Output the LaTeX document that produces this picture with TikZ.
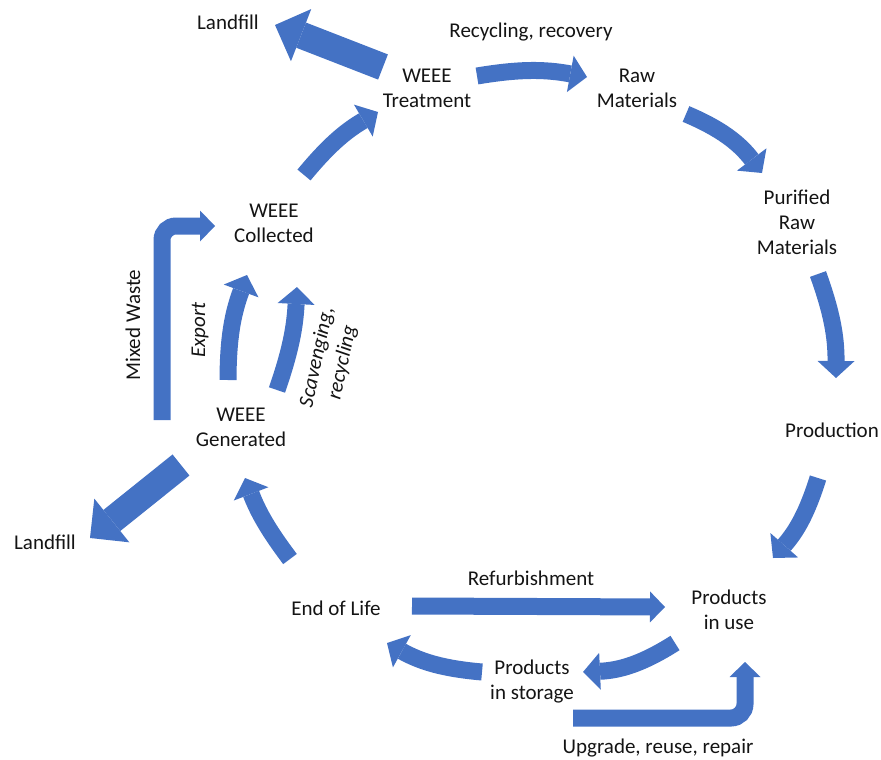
\documentclass[tikz,border=0pt]{standalone}
\usepackage{fontspec}
\setmainfont{Carlito}
\usetikzlibrary{arrows.meta}
\definecolor{flowblue}{HTML}{4472C4}
\begin{document}
\begin{tikzpicture}[x=1pt,y=1pt,
  lbl/.style={font=\fontsize{21}{25}\selectfont, align=center, inner sep=0pt, text=black!92},
  slanted/.style={lbl, font=\fontsize{21}{26}\selectfont\itshape},
  flow/.style={draw=flowblue, line width=17pt,
    -{Triangle[width=37pt,length=17pt,line width=0pt]}},
  smallflow/.style={draw=flowblue, line width=17pt,
    -{Triangle[width=31pt,length=15pt,line width=0pt]}},
  bigflow/.style={draw=flowblue, line width=27pt,
    -{Triangle[width=56pt,length=28pt,line width=0pt]}},
]
\useasboundingbox (0,0) rectangle (881,-760);

% stages of the cycle
\node[lbl] (landfillA) at (228,-22) {Landfill};
\node[lbl] (treat)     at (427,-88) {WEEE\\Treatment};
\node[lbl] (raw)       at (637,-88) {Raw\\Materials};
\node[lbl] (pure)      at (797,-222) {Purified\\Raw\\Materials};
\node[lbl] (prod)      at (832,-430) {Production};
\node[lbl] (inuse)     at (729,-610) {Products\\in use};
\node[lbl] (store)     at (532,-682) {Products\\in storage};
\node[lbl] (eol)       at (336,-608) {End of Life};
\node[lbl] (gen)       at (241,-427) {WEEE\\Generated};
\node[lbl] (coll)      at (274,-223) {WEEE\\Collected};
\node[lbl] (landfillB) at (45,-542) {Landfill};

% flow labels
\node[lbl] (lrec)   at (531,-32) {Recycling, recovery};
\node[lbl] (lref)   at (531,-578) {Refurbishment};
\node[lbl] (lupg)   at (658,-748) {Upgrade, reuse, repair};
\node[lbl, rotate=90] (lmix) at (133,-325) {Mixed Waste};
\node[slanted, rotate=90] (lexp) at (200,-330) {Export};
\node[slanted, rotate=78] (lscv) at (330,-360) {Scavenging,\\recycling};

% arrow end points
\coordinate (a1s) at (383,-67);  \coordinate (a1e) at (275,-25);
\coordinate (a2s) at (477,-76);  \coordinate (a2e) at (587,-77);
\coordinate (a3s) at (686,-114); \coordinate (a3e) at (762,-173);
\coordinate (a4s) at (818,-274); \coordinate (a4e) at (836,-378);
\coordinate (a5s) at (818,-478); \coordinate (a5e) at (773,-558);
\coordinate (a6s) at (675,-643); \coordinate (a6e) at (583,-672);
\coordinate (a7s) at (482,-672); \coordinate (a7e) at (387,-643);
\coordinate (a8s) at (290,-559); \coordinate (a8e) at (245,-478);
\coordinate (a9s) at (181,-465); \coordinate (a9e) at (90,-538);
\coordinate (b1s) at (228,-380); \coordinate (b1e) at (247,-275);
\coordinate (b2s) at (277,-390); \coordinate (b2e) at (297,-287);
\coordinate (b3s) at (304,-175); \coordinate (b3e) at (378,-112);
\coordinate (c1s) at (162,-420); \coordinate (c1e) at (215,-226);
\coordinate (c2s) at (412,-606); \coordinate (c2e) at (665,-607);
\coordinate (c3s) at (573,-718); \coordinate (c3e) at (745,-662);

% main cycle
\draw[bigflow] (a1s) -- (a1e);
\draw[flow] (a2s) to[bend left=10] (a2e);
\draw[flow] (a3s) to[bend left=15] (a3e);
\draw[flow] (a4s) to[bend left=10] (a4e);
\draw[flow] (a5s) to[bend left=12] (a5e);
\draw[flow] (a6s) to[bend left=15] (a6e);
\draw[flow] (a7s) to[bend left=12] (a7e);
\draw[flow] (a8s) to[bend left=8] (a8e);
\draw[bigflow] (a9s) -- (a9e);
\draw[flow] (b1s) to[bend left=10] (b1e);
\draw[flow] (b2s) to[bend right=8] (b2e);
\draw[flow] (b3s) to[bend left=10] (b3e);

% side routes
\draw[smallflow, rounded corners=14pt] (c1s) |- (c1e);
\draw[smallflow] (c2s) -- (c2e);
\draw[smallflow, rounded corners=14pt] (c3s) -| (c3e);
\end{tikzpicture}
\end{document}
